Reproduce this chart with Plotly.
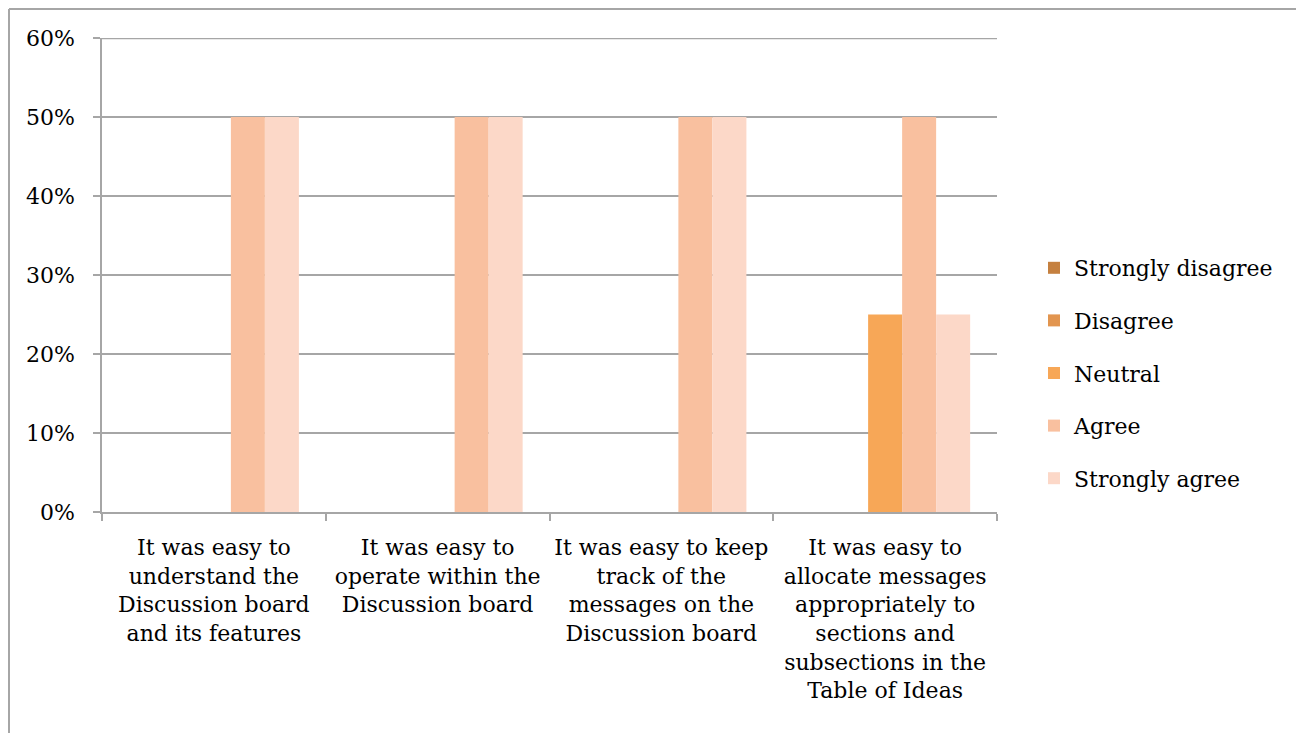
import plotly.graph_objects as go

categories = [
    "It was easy to<br>understand the<br>Discussion board<br>and its features",
    "It was easy to<br>operate within the<br>Discussion board",
    "It was easy to keep<br>track of the<br>messages on the<br>Discussion board",
    "It was easy to<br>allocate messages<br>appropriately to<br>sections and<br>subsections in the<br>Table of Ideas",
]
series_names = ["Strongly disagree", "Disagree", "Neutral", "Agree", "Strongly agree"]
strongly_disagree = [0, 0, 0, 0]
disagree = [0, 0, 0, 0]
neutral = [0, 0, 0, 0.25]
agree = [0.5, 0.5, 0.5, 0.5]
strongly_agree = [0.5, 0.5, 0.5, 0.25]
y_ticks = [0, 0.1, 0.2, 0.3, 0.4, 0.5, 0.6]

colors = ["#C5803F", "#E2954F", "#F7A757", "#F9C09F", "#FCD8C8"]
values = [strongly_disagree, disagree, neutral, agree, strongly_agree]

FONT = "DejaVu Serif"
FS = 22
GRID = "#A6A6A6"

fig = go.Figure()
for i, (name, vals) in enumerate(zip(series_names, values)):
    fig.add_trace(go.Bar(
        x=categories, y=vals, name=name,
        marker=dict(color=colors[i], line=dict(width=0)),
        legendgroup=f"g{i}",
    ))

# page body has an 8px margin; figure coords = screen coords - 8
W, H = 1296, 725
L, T = 94, 30
PW, PH = 895, 474
R = W - L - PW
B = H - T - PH

def px(x):
    return (x - L) / PW

def py(y):
    return (H - B - y) / PH

fig.update_layout(
    width=W, height=H,
    margin=dict(l=L, r=R, t=T, b=B),
    paper_bgcolor="white", plot_bgcolor="white",
    barmode="group", bargap=0.24, bargroupgap=0,
    font=dict(family=FONT, size=FS, color="#000000"),
    legend=dict(
        x=px(1026), y=py(365), xanchor="left", yanchor="middle",
        font=dict(family=FONT, size=FS, color="#000000"),
        tracegroupgap=21, traceorder="grouped",
        itemwidth=30,
    ),
    showlegend=True,
    xaxis=dict(
        showline=True, linecolor=GRID, linewidth=1.5,
        ticks="outside", tickson="boundaries", ticklen=7, tickcolor=GRID,
        tickwidth=1.5,
        showgrid=False,
        tickfont=dict(family=FONT, size=FS),
        tickangle=0,
        ticklabelstandoff=15,
    ),
    yaxis=dict(
        range=[0, 0.6], tickvals=y_ticks, tickformat=".0%",
        showline=True, linecolor=GRID, linewidth=1.5,
        ticks="outside", ticklen=7, tickcolor=GRID, tickwidth=1.5,
        showgrid=True, gridcolor=GRID, gridwidth=1.5,
        zeroline=False,
        tickfont=dict(family=FONT, size=FS),
        ticklabelstandoff=14,
    ),
    shapes=[
        dict(type="line", xref="paper", yref="y",
             x0=0, x1=1, y0=y_ticks[-1], y1=y_ticks[-1], line=dict(color=GRID, width=2.5)),
        dict(type="line", xref="paper", yref="paper",
             x0=px(1), x1=px(1), y0=py(1), y1=py(730), line=dict(color=GRID, width=2)),
        dict(type="line", xref="paper", yref="paper",
             x0=px(1), x1=px(1294), y0=py(1), y1=py(1), line=dict(color=GRID, width=2)),
        dict(type="line", xref="paper", yref="paper",
             x0=px(1294), x1=px(1294), y0=py(1), y1=py(730), line=dict(color=GRID, width=2)),
    ],
)

fig.write_html("out.html")
